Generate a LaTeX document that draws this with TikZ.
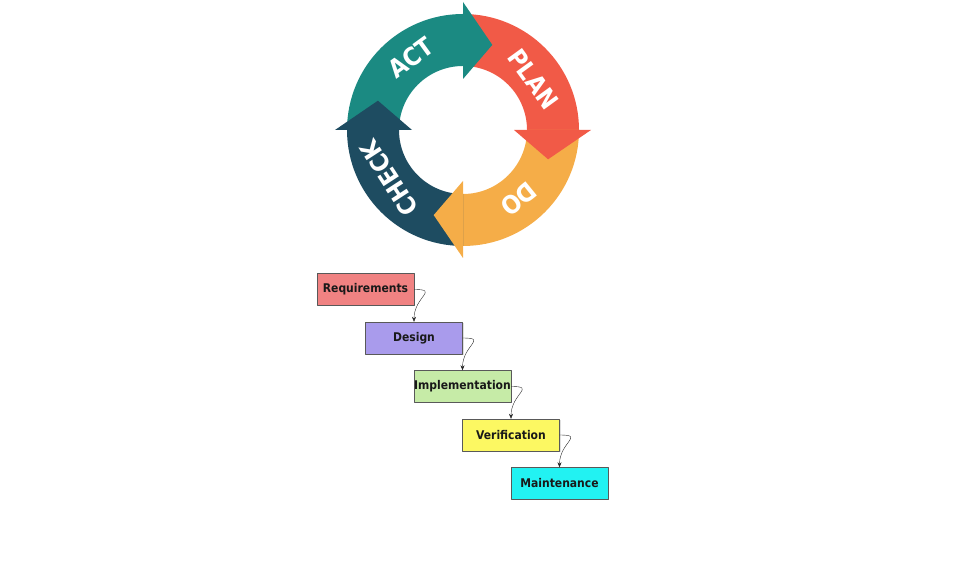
\documentclass[tikz,border=0pt]{standalone}
\usepackage{fontspec}
\setmainfont{DejaVu Sans Condensed}
\usetikzlibrary{arrows.meta,shadows}
\definecolor{actc}{HTML}{1B8A82}
\definecolor{planc}{HTML}{F15A47}
\definecolor{doc}{HTML}{F5AD48}
\definecolor{checkc}{HTML}{1E4C61}
\definecolor{reqc}{HTML}{F08282}
\definecolor{desc}{HTML}{A99BEC}
\definecolor{impc}{HTML}{C6EBA7}
\definecolor{verc}{HTML}{FCF862}
\definecolor{mntc}{HTML}{22F2F2}
\begin{document}
\begin{tikzpicture}[x=1pt, y=1pt, line join=round, line cap=round, >={Stealth[length=5pt,width=4pt]},
	phase/.style={draw=black!65, fill=#1, minimum width=97pt, minimum height=32pt, inner sep=0pt,
		font=\fontsize{12}{14}\selectfont\bfseries, text=black!90,
		drop shadow={opacity=.25, shadow xshift=1pt, shadow yshift=-1pt}},
	flow/.style={->, black!85, thin, out=0, in=90, looseness=2},
	cyc/.style={text=white, inner sep=0pt, font=\fontsize{25}{28}\selectfont\bfseries}]
	\useasboundingbox (0,0) rectangle (961,575);
	\def\R{116} \def\r{64}
	% PDCA ring
	\begin{scope}[shift={(463,445)}]
		\foreach \a/\c in {180/actc,90/planc,0/doc,-90/checkc}
		\fill[\c] (\a:\R) arc[start angle=\a, end angle=\a-90, radius=\R] -- (\a-90:\r) arc[start angle=\a-90, end angle=\a, radius=\r] -- cycle;
		\foreach \a/\c in {90/actc,0/planc,-90/doc,180/checkc}
		\fill[\c] (\a:\R+12) -- (\a-19:90) -- (\a:\r-13) -- cycle;
		\node[cyc, rotate=36] (act) at (126:89) {ACT};
		\node[cyc, rotate=-54] (plan) at (36:87) {PLAN};
		\node[cyc, rotate=-141] (do) at (-51:89) {DO};
		\node[cyc, rotate=123] (check) at (-147:88) {CHECK};
	\end{scope}
	% waterfall
	\foreach \n/\t/\c [count=\i from 0] in {req/Requirements/reqc,des/Design/desc,imp/Implementation/impc,ver/Verification/verc,mnt/Maintenance/mntc}
	\node[phase=\c] (\n) at ({365.5+48.5*\i},{285.5-48.5*\i}) {\t};
	\foreach \a/\b in {req/des,des/imp,imp/ver,ver/mnt}
	\draw[flow] (\a.east) to (\b.north);
\end{tikzpicture}
\end{document}
